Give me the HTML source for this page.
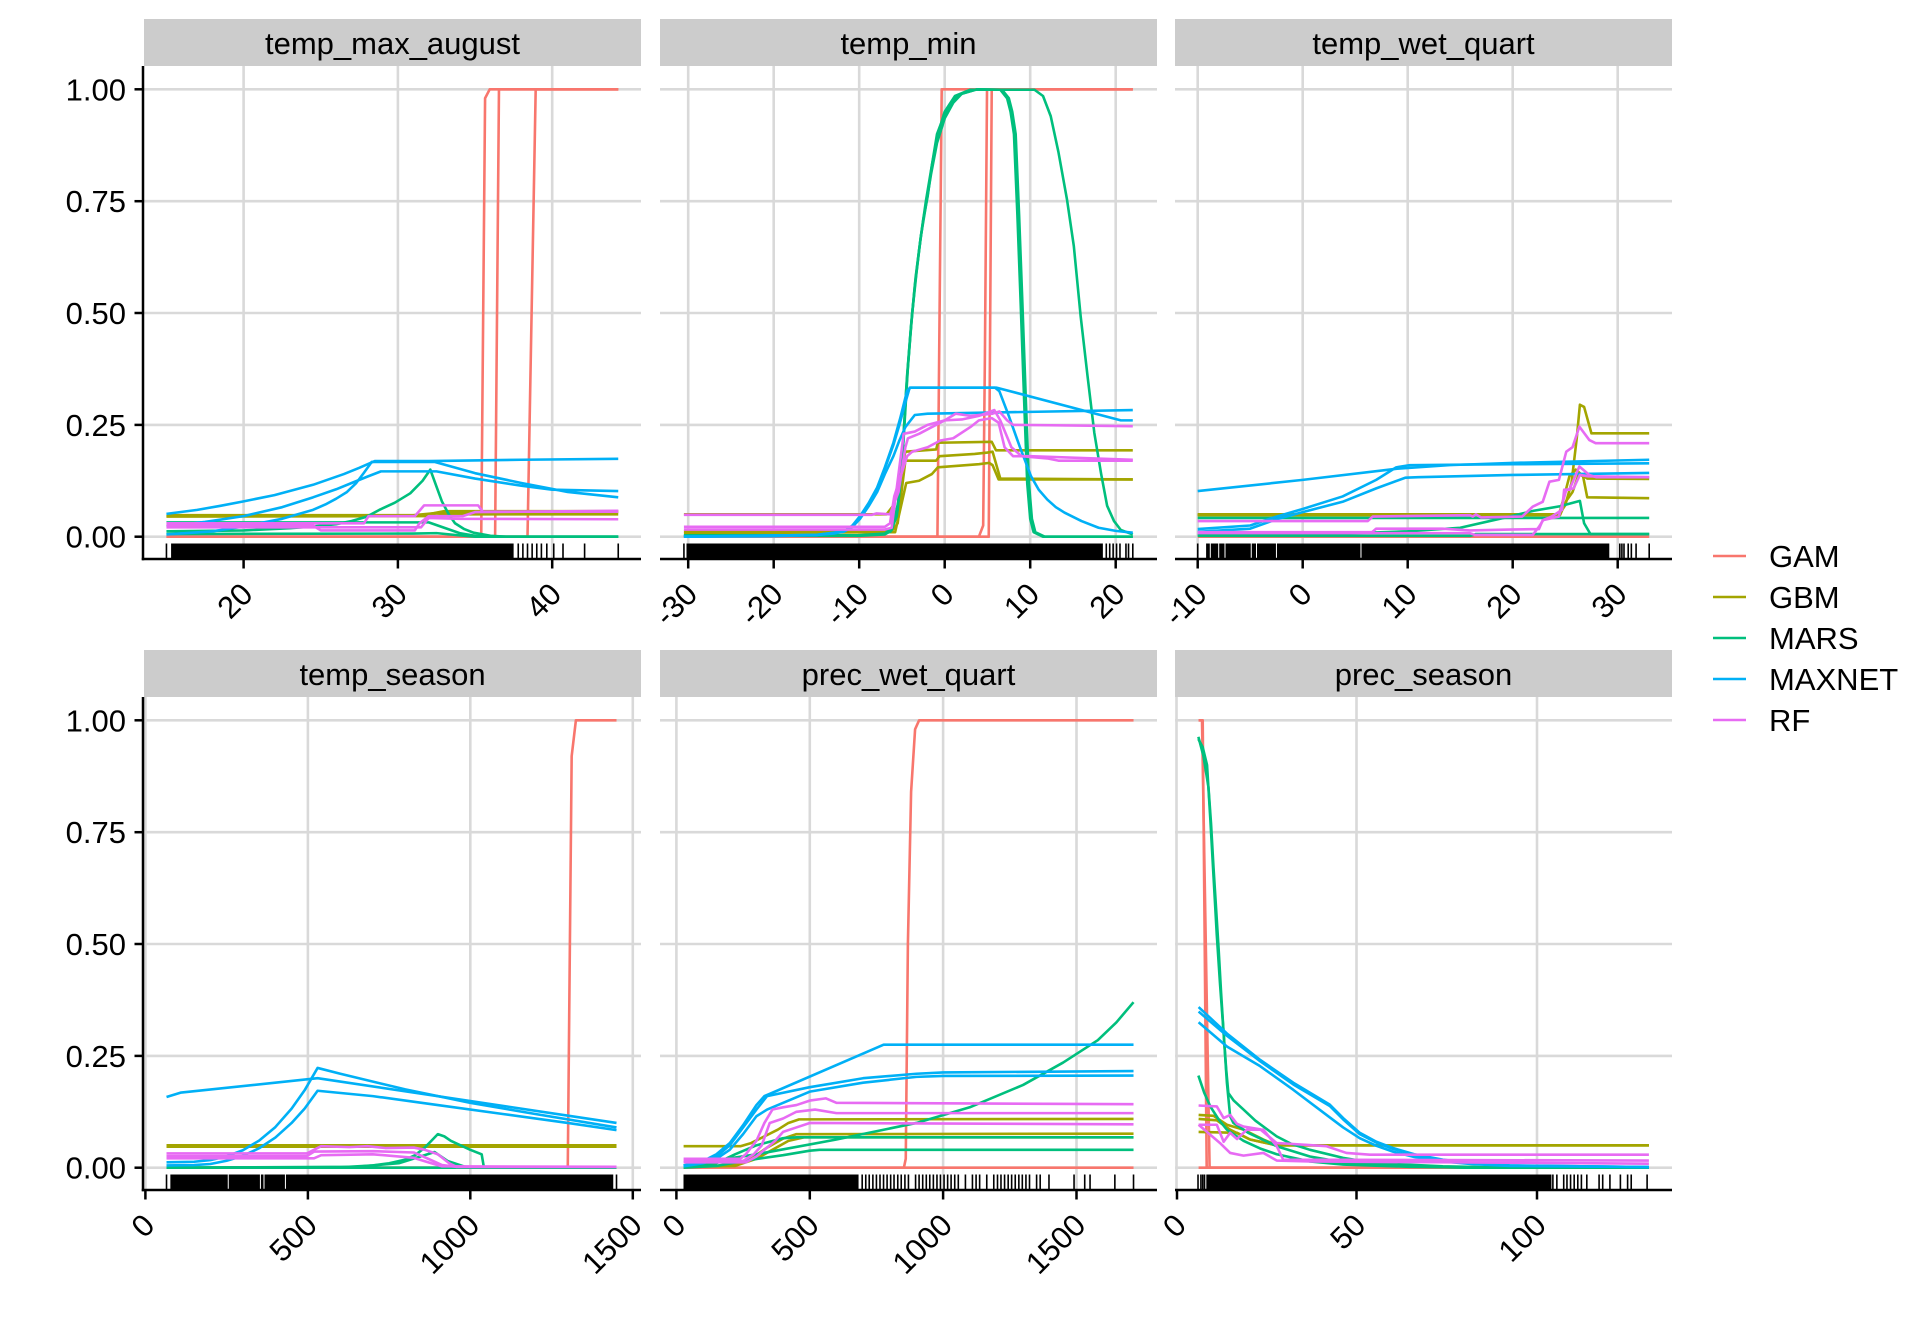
<!DOCTYPE html>
<html><head><meta charset="utf-8">
<style>
html,body{margin:0;padding:0;background:#fff;}
svg{display:block;}
text{font-family:"Liberation Sans",Arial,sans-serif;font-size:31px;fill:#000;}
.g line{stroke:#d9d9d9;stroke-width:2.6;}
.d path{fill:none;stroke-width:2.6;stroke-linejoin:round;stroke-linecap:butt;vector-effect:non-scaling-stroke;}
.d path.t{stroke:#000;stroke-width:1.6;}
.d path.w{stroke:#fff;stroke-width:1;}
.a{stroke:#F8766D;} .b{stroke:#A3A500;} .m{stroke:#00BF7D;} .x{stroke:#00B0F6;} .r{stroke:#E76BF3;}
.ax line{stroke:#000;stroke-width:2.5;}
</style></head>
<body>
<svg width="1920" height="1344" viewBox="0 0 1920 1344" xmlns="http://www.w3.org/2000/svg">
<rect width="1920" height="1344" fill="#fff"/>

<!-- strips -->
<g fill="#cccccc">
<rect x="144" y="19" width="497" height="47"/>
<rect x="660" y="19" width="497" height="47"/>
<rect x="1175" y="19" width="497" height="47"/>
<rect x="144" y="650" width="497" height="47"/>
<rect x="660" y="650" width="497" height="47"/>
<rect x="1175" y="650" width="497" height="47"/>
</g>
<g text-anchor="middle">
<text x="392.5" y="54">temp_max_august</text>
<text x="908.5" y="54">temp_min</text>
<text x="1423.5" y="54">temp_wet_quart</text>
<text x="392.5" y="685">temp_season</text>
<text x="908.5" y="685">prec_wet_quart</text>
<text x="1423.5" y="685">prec_season</text>
</g>

<!-- grid -->
<g class="g">
<line x1="144" x2="641" y1="89.3" y2="89.3"/><line x1="144" x2="641" y1="201.2" y2="201.2"/><line x1="144" x2="641" y1="313" y2="313"/><line x1="144" x2="641" y1="424.9" y2="424.9"/><line x1="144" x2="641" y1="536.7" y2="536.7"/>
<line x1="660" x2="1157" y1="89.3" y2="89.3"/><line x1="660" x2="1157" y1="201.2" y2="201.2"/><line x1="660" x2="1157" y1="313" y2="313"/><line x1="660" x2="1157" y1="424.9" y2="424.9"/><line x1="660" x2="1157" y1="536.7" y2="536.7"/>
<line x1="1175" x2="1672" y1="89.3" y2="89.3"/><line x1="1175" x2="1672" y1="201.2" y2="201.2"/><line x1="1175" x2="1672" y1="313" y2="313"/><line x1="1175" x2="1672" y1="424.9" y2="424.9"/><line x1="1175" x2="1672" y1="536.7" y2="536.7"/>
<line x1="144" x2="641" y1="720.3" y2="720.3"/><line x1="144" x2="641" y1="832.2" y2="832.2"/><line x1="144" x2="641" y1="944" y2="944"/><line x1="144" x2="641" y1="1055.9" y2="1055.9"/><line x1="144" x2="641" y1="1167.7" y2="1167.7"/>
<line x1="660" x2="1157" y1="720.3" y2="720.3"/><line x1="660" x2="1157" y1="832.2" y2="832.2"/><line x1="660" x2="1157" y1="944" y2="944"/><line x1="660" x2="1157" y1="1055.9" y2="1055.9"/><line x1="660" x2="1157" y1="1167.7" y2="1167.7"/>
<line x1="1175" x2="1672" y1="720.3" y2="720.3"/><line x1="1175" x2="1672" y1="832.2" y2="832.2"/><line x1="1175" x2="1672" y1="944" y2="944"/><line x1="1175" x2="1672" y1="1055.9" y2="1055.9"/><line x1="1175" x2="1672" y1="1167.7" y2="1167.7"/>
<line y1="66" y2="559" x1="243.6" x2="243.6"/><line y1="66" y2="559" x1="397.9" x2="397.9"/><line y1="66" y2="559" x1="552.2" x2="552.2"/>
<line y1="66" y2="559" x1="688.2" x2="688.2"/><line y1="66" y2="559" x1="773.7" x2="773.7"/><line y1="66" y2="559" x1="859.2" x2="859.2"/><line y1="66" y2="559" x1="944.7" x2="944.7"/><line y1="66" y2="559" x1="1030.2" x2="1030.2"/><line y1="66" y2="559" x1="1115.7" x2="1115.7"/>
<line y1="66" y2="559" x1="1197.7" x2="1197.7"/><line y1="66" y2="559" x1="1302.7" x2="1302.7"/><line y1="66" y2="559" x1="1407.7" x2="1407.7"/><line y1="66" y2="559" x1="1512.7" x2="1512.7"/><line y1="66" y2="559" x1="1617.7" x2="1617.7"/>
<line y1="697" y2="1190" x1="145.4" x2="145.4"/><line y1="697" y2="1190" x1="307.9" x2="307.9"/><line y1="697" y2="1190" x1="470.3" x2="470.3"/><line y1="697" y2="1190" x1="632.8" x2="632.8"/>
<line y1="697" y2="1190" x1="676.4" x2="676.4"/><line y1="697" y2="1190" x1="809.8" x2="809.8"/><line y1="697" y2="1190" x1="943.1" x2="943.1"/><line y1="697" y2="1190" x1="1076.5" x2="1076.5"/>
<line y1="697" y2="1190" x1="1176.5" x2="1176.5"/><line y1="697" y2="1190" x1="1356.5" x2="1356.5"/><line y1="697" y2="1190" x1="1537" x2="1537"/>
</g>

<!-- PANEL 1 temp_max_august -->
<g class="d" transform="matrix(15.43 0 0 -447.4 -65.0 536.7)">
<path class="a" d="M15 0L35.4 0L35.65 0.98L35.95 1L44.28 1"/>
<path class="a" d="M15 0L36.3 0L36.55 1L44.28 1"/>
<path class="a" d="M15 0L38.4 0L38.93 1L44.28 1"/>
<path class="b" d="M15 0.048L31 0.048L32.5 0.053L44.28 0.055"/>
<path class="b" d="M15 0.046L31.5 0.047L33 0.057L44.28 0.057"/>
<path class="b" d="M15 0.045L32 0.046L33.5 0.05L44.28 0.05"/>
<path class="m" d="M15 0.012L20 0.014L23 0.019L24.5 0.023L26 0.028L27 0.035L28 0.045L28.8 0.06L29.8 0.076L30.8 0.097L31.6 0.125L32.1 0.15L32.5 0.112L32.85 0.079L33.3 0.05L33.7 0.03L34.3 0.017L34.9 0.009L36 0.002L37 0L44.28 0"/>
<path class="m" d="M15 0.032L32 0.032L33 0.02L34 0.008L35 0.002L36 0L44.28 0"/>
<path class="m" d="M15 0.006L31 0.007L32.5 0.008L34 0.003L35 0L44.28 0"/>
<path class="x" d="M15 0.051L17 0.06L18.5 0.069L20 0.079L22 0.093L24.5 0.116L26.5 0.14L27.5 0.154L28.5 0.169L32 0.169L38 0.172L44.28 0.174"/>
<path class="x" d="M15 0.023L17.5 0.033L20 0.046L22.5 0.066L24.5 0.088L26 0.106L27 0.12L28 0.134L28.9 0.146L32.5 0.146L35 0.13L38 0.114L40 0.105L44.28 0.102"/>
<path class="x" d="M15 0.005L18 0.012L20 0.023L22.5 0.04L24.5 0.06L25.3 0.072L26 0.085L26.7 0.1L27.3 0.12L27.8 0.143L28.3 0.167L32.4 0.167L35 0.142L38 0.12L41 0.1L44.28 0.088"/>
<path class="r" d="M15 0.03L27.8 0.03L28.1 0.046L31.1 0.046L31.7 0.07L35.2 0.07L35.5 0.056L44.28 0.056"/>
<path class="r" d="M15 0.025L24.5 0.025L25 0.014L31.1 0.014L31.4 0.03L32 0.046L34.2 0.046L35 0.055L44.28 0.058"/>
<path class="r" d="M15 0.021L31.5 0.021L32 0.042L34 0.04L44.28 0.039"/>
<rect x="15.3" y="-0.0498" width="22.2" height="0.0346" fill="#000"/>
<path class="t" d="M15 -0.0498V-0.0152M37.8 -0.0498V-0.0152M38.1 -0.0498V-0.0152M38.4 -0.0498V-0.0152M38.7 -0.0498V-0.0152M39.0 -0.0498V-0.0152M39.3 -0.0498V-0.0152M39.65 -0.0498V-0.0152M40.1 -0.0498V-0.0152M40.7 -0.0498V-0.0152M42.1 -0.0498V-0.0152M44.28 -0.0498V-0.0152"/>
</g>

<!-- PANEL 2 temp_min -->
<g class="d" transform="matrix(8.55 0 0 -447.4 944.7 536.7)">
<path class="a" d="M-30.5 0L-0.85 0L-0.35 1L22 1"/>
<path class="a" d="M-30.5 0L4.0 0L4.5 0.025L4.7 0.4L4.95 1L22 1"/>
<path class="a" d="M-30.5 0L5.15 0L5.5 1L22 1"/>
<path class="b" d="M-30.5 0.05L-6.8 0.05L-6 0.07L-4.6 0.19L-1 0.195L-0.8 0.21L5.5 0.212L6 0.193L22 0.193"/>
<path class="b" d="M-30.5 0.012L-6.2 0.012L-5.5 0.03L-4.6 0.17L-1 0.17L-0.6 0.18L3.5 0.185L5 0.188L5.6 0.19L6.5 0.13L22 0.128"/>
<path class="b" d="M-30.5 0.008L-5.8 0.01L-4.5 0.12L-3 0.125L-1.5 0.14L-0.8 0.155L4 0.162L5.2 0.165L5.6 0.16L6.3 0.128L22 0.128"/>
<path class="m" d="M-30.5 0.003L-10 0.003L-7 0.006L-6.3 0.012L-5.6 0.046L-5.0 0.158L-4.5 0.33L-4.0 0.456L-3.5 0.56L-3.0 0.64L-2.5 0.71L-2.0 0.76L-1.5 0.83L-0.9 0.9L0 0.945L1 0.975L2 0.99L3.8 1L6.5 0.999L7.3 0.98L7.7 0.95L8.1 0.9L8.5 0.72L8.87 0.53L9.3 0.3L9.65 0.12L10.0 0.04L10.4 0.01L11.5 0L22 0"/>
<path class="m" d="M-30.5 0.003L-10 0.003L-7 0.007L-6.1 0.02L-5.4 0.08L-4.8 0.22L-4.3 0.38L-3.8 0.5L-3.3 0.59L-2.8 0.67L-2.2 0.74L-1.6 0.81L-0.9 0.88L0 0.935L1 0.97L2 0.99L3.8 1L6.7 0.999L7.5 0.98L7.9 0.95L8.3 0.9L8.7 0.72L9.07 0.53L9.5 0.3L9.85 0.12L10.2 0.04L10.6 0.01L11.7 0L22 0"/>
<path class="m" d="M-30.5 0.002L-10 0.002L-7 0.005L-6.2 0.015L-5.5 0.06L-4.9 0.2L-4.4 0.36L-3.9 0.48L-3.4 0.58L-2.8 0.67L-2.2 0.75L-1.5 0.83L-0.8 0.9L0 0.95L1.2 0.985L3 0.999L10.5 0.999L11.5 0.985L12.4 0.94L13.3 0.86L14.3 0.754L15.1 0.65L15.9 0.493L16.7 0.36L17.5 0.232L18.3 0.14L19 0.069L19.8 0.035L20.6 0.015L22 0.005"/>
<path class="x" d="M-30.5 0L-20 0.001L-15 0.004L-13 0.007L-11.8 0.012L-10.8 0.025L-9.9 0.046L-8.9 0.075L-7.9 0.11L-7 0.155L-6 0.21L-5.2 0.265L-4.4 0.326L-4 0.333L6.1 0.333L20.6 0.26L22 0.26"/>
<path class="x" d="M-30.5 0L-15 0.004L-11.8 0.011L-10.8 0.022L-9.9 0.04L-8.9 0.068L-7.9 0.1L-7 0.14L-6 0.18L-5.3 0.215L-4.6 0.245L-3.5 0.272L-2 0.275L10 0.279L22 0.283"/>
<path class="x" d="M-30.5 0L-15 0.004L-11.8 0.012L-10.8 0.024L-9.9 0.045L-8.9 0.073L-7.9 0.108L-7 0.152L-6 0.205L-5.3 0.25L-4.6 0.3L-4.1 0.333L5.9 0.333L6.4 0.325L7.5 0.27L8.8 0.2L10.1 0.135L11 0.105L12 0.083L13 0.066L14 0.054L16 0.035L18 0.02L20 0.013L22 0.009"/>
<path class="r" d="M-30.5 0.049L-8.5 0.049L-8 0.052L-6.4 0.05L-5.4 0.1L-4.6 0.2L-4.3 0.22L-3 0.23L-1.5 0.245L0 0.26L1.3 0.275L3 0.27L5.6 0.275L6.4 0.28L7.3 0.26L8 0.25L22 0.247"/>
<path class="r" d="M-30.5 0.016L-7 0.016L-6.2 0.02L-5.8 0.08L-4.8 0.23L-3.5 0.235L-2 0.25L0 0.26L2 0.262L4 0.27L5.8 0.283L6.5 0.26L7.8 0.2L9 0.18L12 0.175L13.3 0.17L22 0.17"/>
<path class="r" d="M-30.5 0.022L-7 0.022L-6.4 0.03L-5.9 0.09L-4.4 0.18L-3.8 0.19L-2 0.2L-0.5 0.215L1 0.22L3 0.245L4 0.26L5.5 0.265L6.3 0.255L7 0.2L8 0.18L10 0.18L22 0.172"/>
<rect x="-30.2" y="-0.0498" width="48.7" height="0.0346" fill="#000"/>
<path class="t" d="M-30.5 -0.0498V-0.0152M18.9 -0.0498V-0.0152M19.3 -0.0498V-0.0152M19.7 -0.0498V-0.0152M20.1 -0.0498V-0.0152M20.5 -0.0498V-0.0152M21.2 -0.0498V-0.0152M21.5 -0.0498V-0.0152M22.0 -0.0498V-0.0152"/>
</g>

<!-- PANEL 3 temp_wet_quart -->
<g class="d" transform="matrix(10.5 0 0 -447.4 1302.7 536.7)">
<path class="a" d="M-10 0L33 0"/>
<path class="b" d="M-10 0.05L24.4 0.05L25 0.07L25.6 0.12L26.1 0.22L26.4 0.295L26.8 0.29L27.5 0.231L33 0.231"/>
<path class="b" d="M-10 0.049L24.4 0.049L24.9 0.09L25.4 0.135L26 0.15L26.5 0.14L27.1 0.13L33 0.129"/>
<path class="b" d="M-10 0.048L24.5 0.048L25.1 0.08L25.7 0.1L26.3 0.14L26.7 0.135L27.1 0.088L33 0.086"/>
<path class="m" d="M-10 0.042L33 0.042"/>
<path class="m" d="M-10 0.004L0 0.005L5 0.008L10 0.012L15 0.02L19.7 0.045L22 0.058L24.5 0.068L26.4 0.08L26.8 0.03L27.4 0.006L33 0.006"/>
<path class="m" d="M-10 0.002L16 0.002L16.5 0.006L33 0.006"/>
<path class="x" d="M-10 0.102L0 0.127L9 0.152L14 0.16L20 0.165L33 0.172"/>
<path class="x" d="M-10 0.017L-5 0.025L-2.5 0.045L0 0.062L3.8 0.09L7 0.127L8.9 0.155L10.2 0.16L20 0.162L33 0.164"/>
<path class="x" d="M-10 0.011L-5 0.018L-2.5 0.039L0 0.055L3.8 0.078L7 0.108L9.8 0.132L11 0.133L20 0.138L33 0.1425"/>
<path class="r" d="M-10 0.035L6.2 0.035L6.67 0.045L15.9 0.048L16.2 0.045L16.5 0.05L17 0.043L20.9 0.045L21.9 0.067L22.86 0.078L23.5 0.123L24.4 0.127L25.1 0.19L25.7 0.2L26.35 0.246L27.3 0.216L27.9 0.209L33 0.209"/>
<path class="r" d="M-10 0.01L6.6 0.01L7 0.018L13.3 0.018L15.9 0.014L19.7 0.016L22.5 0.017L22.86 0.037L23.7 0.045L24.7 0.06L24.9 0.105L25.4 0.105L26.35 0.157L27.3 0.138L27.94 0.133L33 0.133"/>
<path class="r" d="M-10 0.008L15.9 0.008L16.4 0.004L21.9 0.004L22.5 0.022L22.9 0.037L24.4 0.045L25.1 0.105L25.8 0.108L26.4 0.138L27.2 0.135L33 0.133"/>
<rect x="-9.2" y="-0.0498" width="38.4" height="0.0346" fill="#000"/>
<path class="w" d="M-8.8 -0.0498V-0.0152M-8.0 -0.0498V-0.0152M-7.4 -0.0498V-0.0152M-4.9 -0.0498V-0.0152M-4.4 -0.0498V-0.0152M-2.5 -0.0498V-0.0152M5.55 -0.0498V-0.0152"/>
<path class="t" d="M-10 -0.0498V-0.0152M30.2 -0.0498V-0.0152M30.4 -0.0498V-0.0152M30.6 -0.0498V-0.0152M31.0 -0.0498V-0.0152M31.3 -0.0498V-0.0152M31.75 -0.0498V-0.0152M33.0 -0.0498V-0.0152"/>
</g>

<!-- PANEL 4 temp_season -->
<g class="d" transform="matrix(0.3249 0 0 -447.4 145.4 1167.7)">
<path class="a" d="M65 0L1300 0L1312 0.92L1325 1L1450 1"/>
<path class="a" d="M65 0L1450 0"/>
<path class="b" d="M65 0.05L1450 0.05"/>
<path class="b" d="M65 0.048L1450 0.048"/>
<path class="b" d="M65 0.047L1450 0.047"/>
<path class="m" d="M65 0L600 0.001L700 0.005L750 0.01L800 0.018L830 0.028L860 0.045L880 0.06L900 0.075L920 0.07L940 0.06L1000 0.04L1035 0.03L1042 0L1450 0"/>
<path class="m" d="M65 0L650 0.002L780 0.01L860 0.028L890 0.035L930 0.015L980 0.003L1000 0L1450 0"/>
<path class="m" d="M65 0L1450 0"/>
<path class="x" d="M65 0.158L110 0.168L530 0.2L1450 0.1"/>
<path class="x" d="M65 0.012L150 0.0133L200 0.017L250 0.0253L300 0.039L350 0.0606L400 0.0908L450 0.132L490 0.173L530 0.223L600 0.21L800 0.175L1000 0.145L1200 0.12L1450 0.09"/>
<path class="x" d="M65 0.005L150 0.006L200 0.0083L250 0.0155L300 0.0265L350 0.0435L400 0.0673L450 0.1L490 0.132L530 0.172L700 0.16L900 0.14L1100 0.12L1300 0.1L1450 0.084"/>
<path class="r" d="M65 0.032L497 0.032L541 0.048L628 0.046L683 0.048L738 0.044L826 0.045L860 0.04L900 0.03L935 0.01L957 0.002L1450 0.002"/>
<path class="r" d="M65 0.026L497 0.026L519 0.036L700 0.037L826 0.034L870 0.02L913 0.006L957 0.002L1450 0.002"/>
<path class="r" d="M65 0.021L519 0.021L541 0.028L700 0.03L826 0.022L880 0.01L913 0.003L1450 0.002"/>
<rect x="76.8" y="-0.0498" width="1363.2" height="0.0346" fill="#000"/>
<path class="w" d="M255 -0.0498V-0.0152M354 -0.0498V-0.0152M365 -0.0498V-0.0152M431 -0.0498V-0.0152"/>
<path class="t" d="M65 -0.0498V-0.0152M1450 -0.0498V-0.0152"/>
</g>

<!-- PANEL 5 prec_wet_quart -->
<g class="d" transform="matrix(0.2667 0 0 -447.4 676.4 1167.7)">
<path class="a" d="M27 0L853 0L860 0.02L868 0.5L880 0.84L895 0.98L910 1L1714 1"/>
<path class="a" d="M27 0L1714 0"/>
<path class="b" d="M27 0.048L240 0.048L280 0.055L330 0.07L380 0.085L420 0.1L460 0.108L1714 0.109"/>
<path class="b" d="M27 0.003L200 0.005L280 0.02L340 0.045L400 0.065L450 0.075L1714 0.076"/>
<path class="b" d="M27 0.002L220 0.004L300 0.02L360 0.04L420 0.06L480 0.068L1714 0.068"/>
<path class="m" d="M27 0.005L300 0.03L600 0.063L900 0.1L1100 0.135L1300 0.185L1450 0.235L1580 0.285L1650 0.325L1714 0.37"/>
<path class="m" d="M27 0L150 0.004L270 0.017L400 0.028L500 0.038L537 0.04L1714 0.04"/>
<path class="m" d="M27 0.002L150 0.01L220 0.03L300 0.05L400 0.066L450 0.068L1714 0.068"/>
<path class="x" d="M27 0.005L100 0.015L150 0.03L200 0.055L250 0.095L300 0.14L330 0.16L350 0.165L777 0.275L1714 0.275"/>
<path class="x" d="M27 0.004L100 0.012L150 0.025L200 0.05L250 0.09L300 0.13L340 0.16L500 0.18L700 0.2L900 0.21L1000 0.213L1714 0.216"/>
<path class="x" d="M27 0.003L100 0.01L150 0.02L200 0.04L250 0.075L300 0.115L340 0.13L500 0.17L700 0.19L900 0.203L1000 0.205L1714 0.206"/>
<path class="r" d="M27 0.02L240 0.02L260 0.03L300 0.06L330 0.1L360 0.13L400 0.135L450 0.14L500 0.15L560 0.155L600 0.145L1714 0.142"/>
<path class="r" d="M27 0.015L250 0.015L290 0.03L320 0.05L350 0.1L400 0.11L450 0.125L520 0.13L600 0.122L1714 0.122"/>
<path class="r" d="M27 0.012L260 0.012L300 0.025L330 0.04L370 0.06L400 0.08L450 0.09L500 0.1L1714 0.097"/>
<rect x="26.6" y="-0.0498" width="656.4" height="0.0346" fill="#000"/>
<path class="t" d="M696.6 -0.0498V-0.0152M710 -0.0498V-0.0152M723 -0.0498V-0.0152M736.7 -0.0498V-0.0152M750 -0.0498V-0.0152M763.4 -0.0498V-0.0152M776.7 -0.0498V-0.0152M790 -0.0498V-0.0152M803.4 -0.0498V-0.0152M816 -0.0498V-0.0152M830 -0.0498V-0.0152M843 -0.0498V-0.0152M856.8 -0.0498V-0.0152M870 -0.0498V-0.0152M896.8 -0.0498V-0.0152M910 -0.0498V-0.0152M923.5 -0.0498V-0.0152M937 -0.0498V-0.0152M950 -0.0498V-0.0152M963.5 -0.0498V-0.0152M977 -0.0498V-0.0152M990 -0.0498V-0.0152M1003.6 -0.0498V-0.0152M1017 -0.0498V-0.0152M1030 -0.0498V-0.0152M1043.6 -0.0498V-0.0152M1057 -0.0498V-0.0152M1083.7 -0.0498V-0.0152M1110 -0.0498V-0.0152M1123.7 -0.0498V-0.0152M1137 -0.0498V-0.0152M1163.7 -0.0498V-0.0152M1190 -0.0498V-0.0152M1204 -0.0498V-0.0152M1217 -0.0498V-0.0152M1230.5 -0.0498V-0.0152M1244 -0.0498V-0.0152M1257 -0.0498V-0.0152M1270.5 -0.0498V-0.0152M1284 -0.0498V-0.0152M1297 -0.0498V-0.0152M1310.6 -0.0498V-0.0152M1324 -0.0498V-0.0152M1350.6 -0.0498V-0.0152M1364 -0.0498V-0.0152M1397 -0.0498V-0.0152M1491 -0.0498V-0.0152M1531 -0.0498V-0.0152M1551 -0.0498V-0.0152M1644 -0.0498V-0.0152M1714 -0.0498V-0.0152"/>
</g>

<!-- PANEL 6 prec_season -->
<g class="d" transform="matrix(3.61 0 0 -447.4 1176 1167.7)">
<path class="a" d="M6.26 1L7.4 1L8.5 0L131 0"/>
<path class="a" d="M6.26 1L7.2 1L9.3 0.003L9.6 0L131 0"/>
<path class="a" d="M6.26 0L131 0"/>
<path class="b" d="M6.26 0.118L10.4 0.116L14.1 0.096L18.7 0.085L24.2 0.063L27.9 0.05L131 0.05"/>
<path class="b" d="M6.26 0.109L11.3 0.106L15 0.085L20.5 0.063L27.9 0.05L131 0.05"/>
<path class="b" d="M6.26 0.08L16.9 0.078L20.5 0.063L27.9 0.05L131 0.05"/>
<path class="m" d="M6.2 0.963L7.6 0.92L9 0.85L9.7 0.77L10.4 0.67L11.1 0.58L11.8 0.49L12.5 0.39L13.2 0.3L13.9 0.22L14.5 0.167L16 0.15L18.7 0.13L22 0.105L27.9 0.07L32 0.053L37.1 0.04L46.3 0.022L55.5 0.01L73.9 0.003L92 0L131 0"/>
<path class="m" d="M6.2 0.958L7.4 0.94L8.6 0.9L9.5 0.78L10.4 0.65L11.3 0.52L12.2 0.41L13.2 0.3L14.1 0.19L15 0.115L15.9 0.1L20 0.078L27.9 0.048L37.1 0.025L46.3 0.012L60 0.004L80 0L131 0"/>
<path class="m" d="M6.2 0.206L7.8 0.168L9.5 0.137L11.8 0.108L14.1 0.085L18.7 0.06L23.3 0.043L27.9 0.03L37.1 0.014L46.3 0.007L64.7 0.002L90 0L131 0"/>
<path class="x" d="M6.26 0.359L14.1 0.3L23.3 0.241L32.5 0.19L42.6 0.141L46.3 0.111L50.9 0.078L55.5 0.058L60.1 0.044L66 0.03L73.9 0.018L82 0.01L92.4 0.005L131 0.0015"/>
<path class="x" d="M6.26 0.349L14.1 0.295L23.3 0.238L32.5 0.186L42.6 0.138L46.3 0.108L50.9 0.075L55.5 0.056L60.1 0.042L66 0.029L73.9 0.017L82 0.01L92.4 0.005L131 0.0015"/>
<path class="x" d="M6.26 0.325L14.1 0.271L23.3 0.227L32.5 0.174L41.7 0.118L46.3 0.09L50.9 0.066L55.5 0.049L60.1 0.036L66 0.024L73.9 0.014L82 0.008L92.4 0.004L131 0.0015"/>
<path class="r" d="M6.26 0.139L11.3 0.137L13.2 0.111L15 0.118L16.9 0.098L18.7 0.092L23.3 0.086L27.9 0.055L32.5 0.053L41.7 0.048L47.2 0.033L53.7 0.029L131 0.029"/>
<path class="r" d="M6.26 0.096L11.3 0.096L13.2 0.058L15 0.078L16.9 0.064L19.6 0.085L24.2 0.085L27.9 0.048L29.7 0.018L131 0.016"/>
<path class="r" d="M6.26 0.096L12.2 0.055L15 0.033L18.7 0.027L24.2 0.033L27.9 0.016L37.1 0.014L131 0.009"/>
<rect x="8.4" y="-0.0498" width="95.6" height="0.0346" fill="#000"/>
<path class="t" d="M6.1 -0.0498V-0.0152M6.9 -0.0498V-0.0152M7.4 -0.0498V-0.0152M7.9 -0.0498V-0.0152M104.4 -0.0498V-0.0152M105.5 -0.0498V-0.0152M107.4 -0.0498V-0.0152M108.3 -0.0498V-0.0152M109.3 -0.0498V-0.0152M110.3 -0.0498V-0.0152M111.3 -0.0498V-0.0152M112.3 -0.0498V-0.0152M113.8 -0.0498V-0.0152M117.2 -0.0498V-0.0152M118.2 -0.0498V-0.0152M120.2 -0.0498V-0.0152M123.1 -0.0498V-0.0152M125.1 -0.0498V-0.0152M126.1 -0.0498V-0.0152M130.5 -0.0498V-0.0152"/>
</g>

<!-- axes -->
<g class="ax">
<line x1="143" y1="66" x2="143" y2="560.2"/>
<line x1="143" y1="697" x2="143" y2="1191.2"/>
<line x1="141.75" y1="559" x2="641" y2="559"/>
<line x1="660" y1="559" x2="1157" y2="559"/>
<line x1="1175" y1="559" x2="1672" y2="559"/>
<line x1="141.75" y1="1190" x2="641" y2="1190"/>
<line x1="660" y1="1190" x2="1157" y2="1190"/>
<line x1="1175" y1="1190" x2="1672" y2="1190"/>
<line x1="134.5" x2="143" y1="89.3" y2="89.3"/><line x1="134.5" x2="143" y1="201.2" y2="201.2"/><line x1="134.5" x2="143" y1="313" y2="313"/><line x1="134.5" x2="143" y1="424.9" y2="424.9"/><line x1="134.5" x2="143" y1="536.7" y2="536.7"/>
<line x1="134.5" x2="143" y1="720.3" y2="720.3"/><line x1="134.5" x2="143" y1="832.2" y2="832.2"/><line x1="134.5" x2="143" y1="944" y2="944"/><line x1="134.5" x2="143" y1="1055.9" y2="1055.9"/><line x1="134.5" x2="143" y1="1167.7" y2="1167.7"/>
<line y1="559" y2="568.5" x1="243.6" x2="243.6"/><line y1="559" y2="568.5" x1="397.9" x2="397.9"/><line y1="559" y2="568.5" x1="552.2" x2="552.2"/>
<line y1="559" y2="568.5" x1="688.2" x2="688.2"/><line y1="559" y2="568.5" x1="773.7" x2="773.7"/><line y1="559" y2="568.5" x1="859.2" x2="859.2"/><line y1="559" y2="568.5" x1="944.7" x2="944.7"/><line y1="559" y2="568.5" x1="1030.2" x2="1030.2"/><line y1="559" y2="568.5" x1="1115.7" x2="1115.7"/>
<line y1="559" y2="568.5" x1="1197.7" x2="1197.7"/><line y1="559" y2="568.5" x1="1302.7" x2="1302.7"/><line y1="559" y2="568.5" x1="1407.7" x2="1407.7"/><line y1="559" y2="568.5" x1="1512.7" x2="1512.7"/><line y1="559" y2="568.5" x1="1617.7" x2="1617.7"/>
<line y1="1190" y2="1199.5" x1="145.4" x2="145.4"/><line y1="1190" y2="1199.5" x1="307.9" x2="307.9"/><line y1="1190" y2="1199.5" x1="470.3" x2="470.3"/><line y1="1190" y2="1199.5" x1="632.8" x2="632.8"/>
<line y1="1190" y2="1199.5" x1="676.4" x2="676.4"/><line y1="1190" y2="1199.5" x1="809.8" x2="809.8"/><line y1="1190" y2="1199.5" x1="943.1" x2="943.1"/><line y1="1190" y2="1199.5" x1="1076.5" x2="1076.5"/>
<line y1="1190" y2="1199.5" x1="1177" x2="1177"/><line y1="1190" y2="1199.5" x1="1356.5" x2="1356.5"/><line y1="1190" y2="1199.5" x1="1537" x2="1537"/>
</g>

<!-- y labels -->
<g text-anchor="end">
<text x="126" y="100.3">1.00</text><text x="126" y="212.2">0.75</text><text x="126" y="324">0.50</text><text x="126" y="435.9">0.25</text><text x="126" y="547.7">0.00</text>
<text x="126" y="731.3">1.00</text><text x="126" y="843.2">0.75</text><text x="126" y="955">0.50</text><text x="126" y="1066.9">0.25</text><text x="126" y="1178.7">0.00</text>
</g>

<!-- x labels -->
<g text-anchor="end">
<text transform="translate(254.6,596) rotate(-45)">20</text>
<text transform="translate(408.9,596) rotate(-45)">30</text>
<text transform="translate(563.2,596) rotate(-45)">40</text>
<text transform="translate(699.2,596) rotate(-45)">-30</text>
<text transform="translate(784.7,596) rotate(-45)">-20</text>
<text transform="translate(870.2,596) rotate(-45)">-10</text>
<text transform="translate(955.7,596) rotate(-45)">0</text>
<text transform="translate(1041.2,596) rotate(-45)">10</text>
<text transform="translate(1126.7,596) rotate(-45)">20</text>
<text transform="translate(1208.7,596) rotate(-45)">-10</text>
<text transform="translate(1313.7,596) rotate(-45)">0</text>
<text transform="translate(1418.7,596) rotate(-45)">10</text>
<text transform="translate(1523.7,596) rotate(-45)">20</text>
<text transform="translate(1628.7,596) rotate(-45)">30</text>

<text transform="translate(156.4,1227) rotate(-45)">0</text>
<text transform="translate(318.9,1227) rotate(-45)">500</text>
<text transform="translate(481.3,1227) rotate(-45)">1000</text>
<text transform="translate(643.8,1227) rotate(-45)">1500</text>
<text transform="translate(687.4,1227) rotate(-45)">0</text>
<text transform="translate(820.8,1227) rotate(-45)">500</text>
<text transform="translate(954.1,1227) rotate(-45)">1000</text>
<text transform="translate(1087.5,1227) rotate(-45)">1500</text>
<text transform="translate(1188,1227) rotate(-45)">0</text>
<text transform="translate(1367.5,1227) rotate(-45)">50</text>
<text transform="translate(1548,1227) rotate(-45)">100</text>
</g>

<!-- legend -->
<g stroke-width="2.6">
<line x1="1713" x2="1746" y1="556" y2="556" stroke="#F8766D"/>
<line x1="1713" x2="1746" y1="597" y2="597" stroke="#A3A500"/>
<line x1="1713" x2="1746" y1="638" y2="638" stroke="#00BF7D"/>
<line x1="1713" x2="1746" y1="679" y2="679" stroke="#00B0F6"/>
<line x1="1713" x2="1746" y1="720" y2="720" stroke="#E76BF3"/>
</g>
<text x="1769" y="567">GAM</text>
<text x="1769" y="608">GBM</text>
<text x="1769" y="649">MARS</text>
<text x="1769" y="690">MAXNET</text>
<text x="1769" y="731">RF</text>
</svg>
</body></html>
